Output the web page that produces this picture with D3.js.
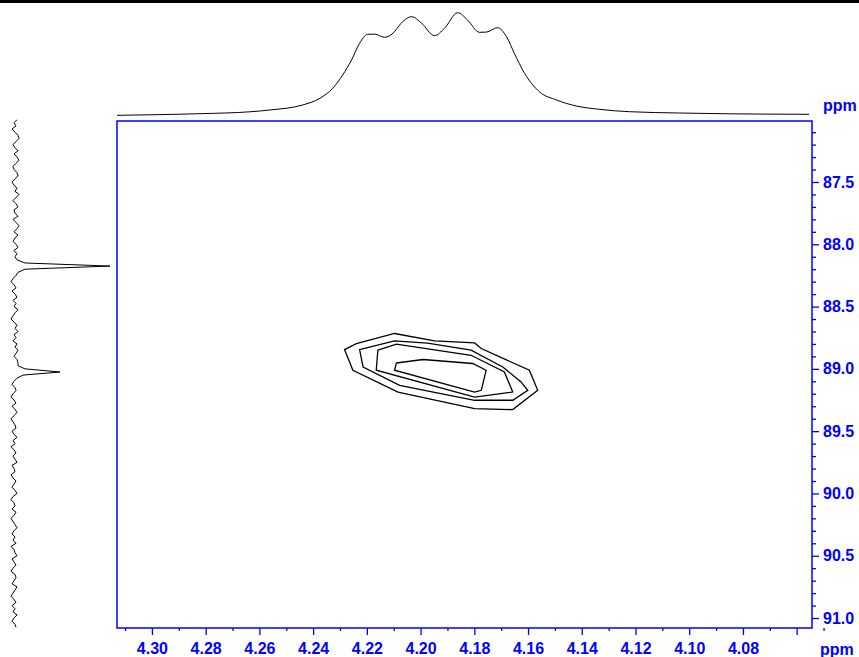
<!DOCTYPE html>
<html><head><meta charset="utf-8">
<script src="https://cdn.jsdelivr.net/npm/d3@7"></script>
<style>
html,body{margin:0;padding:0;background:#fff;}
svg{display:block;}
text{font-family:"Liberation Sans",Arial,sans-serif;font-weight:bold;}
</style></head>
<body>
<script>
// ---- data ----
const xMajorTicks = [4.30,4.28,4.26,4.24,4.22,4.20,4.18,4.16,4.14,4.12,4.10,4.08,4.06];
const xTickLabels = ["4.30","4.28","4.26","4.24","4.22","4.20","4.18","4.16","4.14","4.12","4.10","4.08",""];
const xMinorTicks = [4.31,4.29,4.27,4.25,4.23,4.21,4.19,4.17,4.15,4.13,4.11,4.09,4.07,4.05];
const yMajorTicks = [87.5,88.0,88.5,89.0,89.5,90.0,90.5,91.0];
const yTickLabels = ["87.5","88.0","88.5","89.0","89.5","90.0","90.5","91.0"];
const yMinorTicks = [87.1,87.2,87.3,87.4,87.6,87.7,87.8,87.9,88.1,88.2,88.3,88.4,88.6,88.7,88.8,88.9,89.1,89.2,89.3,89.4,89.6,89.7,89.8,89.9,90.1,90.2,90.3,90.4,90.6,90.7,90.8,90.9];
const axisUnit = "ppm";

// F2 (1H) projection: [ppm, intensity]
const topTrace = [
[4.3130,0.7],[4.3007,1.2],[4.2822,2.3],[4.2636,4.2],[4.2561,6],[4.2439,11],[4.2375,17.7],
[4.2327,27.7],[4.2290,41],[4.2257,56],[4.2227,72.7],[4.2197,81.7],[4.2171,81.9],[4.2134,78.7],
[4.2097,84.3],[4.2078,91],[4.2033,99.3],[4.1996,92.7],[4.1948,80.3],[4.1911,87.7],[4.1862,103.3],
[4.1825,96],[4.1781,83.7],[4.1755,83.9],[4.1714,88.3],[4.1680,79.3],[4.1651,62.7],[4.1613,42.7],
[4.1558,24.3],[4.1494,16],[4.1420,10],[4.1335,6.7],[4.1223,4.3],[4.1037,3],[4.0851,2.2],[4.0554,1.7]
];

// F1 (13C) projection: uniform ppm grid, intensities
const leftStart = 87.00, leftStep = 0.025;
const leftIntensity = [
 2,-1,1,-3,0,3,4,1,-2,0,3,-1,2,4,1,-2,-1,2,3,0,-3,-1,2,0,4,1,-2,1,3,-1,0,3,-2,1,4,2,-1,3,0,-2,1,3,-1,2,0,
 2,10,95,10,3,1,
 -2,-4,-1,1,-3,0,2,-2,1,-1,3,0,-2,-4,-1,2,0,3,-1,1,-2,2,0,3,1,-1,2,3,
 3,10,45,8,2,
 -1,-3,0,1,-2,-4,-1,1,-3,0,2,-1,-4,-2,0,1,-3,-1,2,-2,0,-4,-1,1,-2,0,2,-3,-1,0,-4,-2,1,-1,-3,0,2,-2,-4,-1,
 0,-3,1,-1,-4,-2,0,2,-1,-3,0,-2,1,-4,-1,0,2,-3,-1,1,-2,-4,0,1,-1,-3,2,0,-2,-4,-1,1,-3,0,-2,2,-1,-3,0,1
];

// contour levels: closed polygons of [1H ppm, 13C ppm]
const contour1 = [[4.2283,88.845],[4.2239,88.797],[4.2097,88.716],[4.1948,88.776],[4.1799,88.792],[4.1774,88.837],
  [4.1595,89.011],[4.1564,89.172],[4.1657,89.327],[4.1799,89.319],[4.2084,89.186],[4.2252,89.011]];
const contour2 = [[4.2227,88.845],[4.2097,88.776],[4.1974,88.794],[4.1812,88.850],[4.1694,88.985],[4.1626,89.105],
  [4.1601,89.172],[4.1657,89.252],[4.1799,89.252],[4.2078,89.132],[4.2214,88.985]];
const contour3 = [[4.2159,88.850],[4.2090,88.802],[4.1812,88.891],[4.1688,89.025],[4.1657,89.186],[4.1799,89.226],
  [4.2165,89.011]];
const contour4 = [[4.2090,88.953],[4.1991,88.925],[4.1806,88.957],[4.1756,89.011],[4.1774,89.172],[4.1799,89.186],
  [4.2097,89.011]];
const contours = [contour1, contour2, contour3, contour4];

// ---- drawing ----
const W = 859, H = 657;
const blue = "#0000ff";
const svg = d3.select("body").append("svg").attr("width", W).attr("height", H);

const plot = {left:117, top:121, right:812, bottom:628};
const x = d3.scaleLinear().domain([4.3130, 4.0543]).range([plot.left, plot.right]);
const y = d3.scaleLinear().domain([87.0104, 91.080]).range([plot.top, plot.bottom]);
const topI = d3.scaleLinear().domain([0, 103.3]).range([116, 12.7]);
const leftI = d3.scaleLinear().domain([0, 95]).range([15, 110]);

// top black rule
svg.append("rect").attr("x",0).attr("y",0).attr("width",W).attr("height",3).attr("fill","#000");

// top projection
svg.append("path").datum(topTrace)
  .attr("d", d3.line().x(d=>x(d[0])).y(d=>topI(d[1])).curve(d3.curveMonotoneX))
  .attr("fill","none").attr("stroke","#000").attr("stroke-width",1);

// left projection
svg.append("path").datum(leftIntensity)
  .attr("d", d3.line().x(d=>leftI(d)).y((d,i)=>y(leftStart + i*leftStep)))
  .attr("fill","none").attr("stroke","#000").attr("stroke-width",1);

// plot frame
svg.append("rect").attr("x",plot.left).attr("y",plot.top)
  .attr("width",plot.right-plot.left).attr("height",plot.bottom-plot.top)
  .attr("fill","none").attr("stroke",blue).attr("stroke-width",1.5);

// contours
const cl = d3.line().x(d=>x(d[0])).y(d=>y(d[1])).curve(d3.curveLinearClosed);
svg.append("g").selectAll("path").data(contours).join("path")
  .attr("d", cl).attr("fill","none").attr("stroke","#000").attr("stroke-width",1.3);

function styleAxis(g){
  g.select(".domain").remove();
  g.selectAll("line").attr("stroke",blue).attr("stroke-width",1.3);
  g.selectAll("text").attr("fill",blue).style("font-size","16px").style("font-weight","bold")
    .style("font-family","'Liberation Sans', Arial, sans-serif");
}

// x axis
const xMinor = svg.append("g").attr("transform",`translate(0,${plot.bottom})`)
  .call(d3.axisBottom(x).tickValues(xMinorTicks).tickSize(3).tickFormat(""));
styleAxis(xMinor);
const xMajor = svg.append("g").attr("transform",`translate(0,${plot.bottom})`)
  .call(d3.axisBottom(x).tickValues(xMajorTicks).tickSize(7).tickPadding(8)
    .tickFormat((d,i)=>xTickLabels[i]));
styleAxis(xMajor);

// y axis (right)
const yMinor = svg.append("g").attr("transform",`translate(${plot.right},0)`)
  .call(d3.axisRight(y).tickValues(yMinorTicks).tickSize(4).tickFormat(""));
styleAxis(yMinor);
const yMajor = svg.append("g").attr("transform",`translate(${plot.right},0)`)
  .call(d3.axisRight(y).tickValues(yMajorTicks).tickSize(7).tickPadding(4)
    .tickFormat((d,i)=>yTickLabels[i]));
styleAxis(yMajor);

// unit labels
svg.append("text").attr("x",823).attr("y",111).text(axisUnit)
  .attr("fill",blue).style("font-size","16px");
svg.append("text").attr("x",820).attr("y",655).text(axisUnit)
  .attr("fill",blue).style("font-size","16px");
</script>
</body></html>
